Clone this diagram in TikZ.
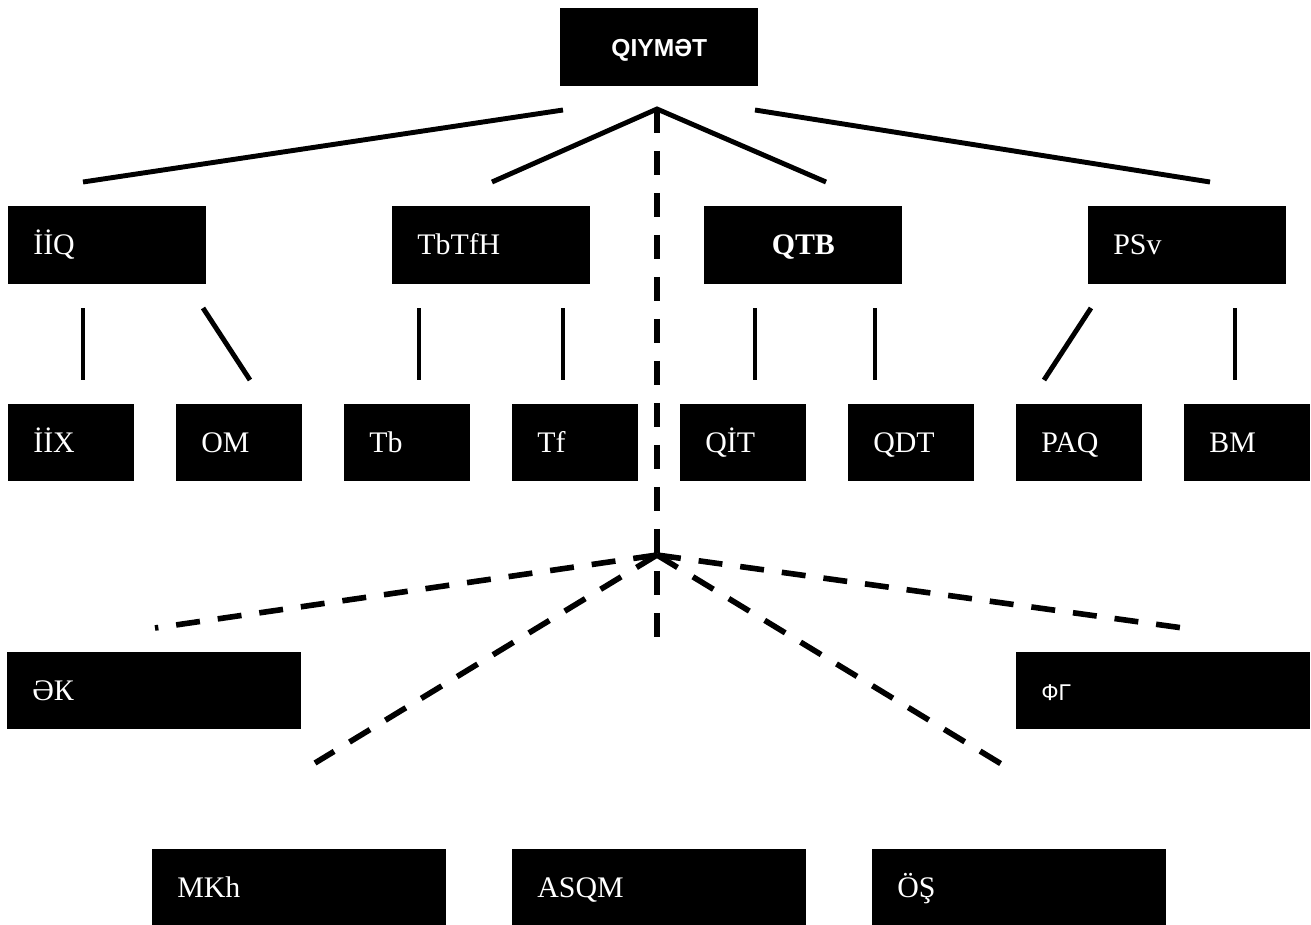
\documentclass[tikz,border=0pt]{standalone}
\usepackage{fontspec}
\setmainfont{Liberation Serif}
\newfontfamily\arialf{Liberation Sans}

\begin{document}
\begin{tikzpicture}[x=0.02cm,y=-0.02cm,
	every node/.style={anchor=north west,inner sep=0pt},
	box/.style={fill=black,text=white,inner xsep=0.5cm,minimum height=1.56cm,
		text height=0.5cm,text depth=0.12cm,
		align=left,font=\fontsize{17}{20}\selectfont},
	wide/.style={box,text width=2.96cm},
	small/.style={box,text width=1.52cm,minimum height=1.54cm},
	long/.style={box,text width=4.88cm,minimum height=1.54cm},
	branch/.style={line width=2.8pt},
	dashline/.style={line width=3.2pt,dash pattern=on 13.66pt off 10.24pt}]
	\useasboundingbox (0,0) rectangle (1311,924);

	\node[box,text width=2.96cm,align=center,font=\arialf\bfseries\fontsize{14}{16}\selectfont] (qiymet) at (560,8) {QIYMƏT};

	\node[wide] (iiq) at (8,206) {İİQ};
	\node[wide] (tbtfh) at (392,206) {TbTfH};
	\node[wide,align=center,font=\bfseries\fontsize{17}{20}\selectfont] (qtb) at (704,206) {QTB};
	\node[wide] (psv) at (1088,206) {PSv};

	\node[small] (iix) at (8,404) {İİX};
	\node[small] (om) at (176,404) {OM};
	\node[small] (tb) at (344,404) {Tb};
	\node[small] (tf) at (512,404) {Tf};
	\node[small] (qit) at (680,404) {QİT};
	\node[small] (qdt) at (848,404) {QDT};
	\node[small] (paq) at (1016,404) {PAQ};
	\node[small] (bm) at (1184,404) {BM};

	\node[long] (ek) at (7,652) {ƏК};
	\node[long,font=\arialf\fontsize{13}{15}\selectfont] (fg) at (1016,652) {ФГ};

	\node[long] (mkh) at (152,849) {MKh};
	\node[long] (asqm) at (512,849) {ASQM};
	\node[long] (os) at (872,849) {ÖŞ};

	\coordinate (top) at (657,109);
	\coordinate (mid) at (657,555);
	\coordinate (vend) at (657,637);
	\coordinate (t1) at (563,110);
	\coordinate (t2) at (755,110);
	\coordinate (a1) at (83,182);
	\coordinate (a2) at (492,182);
	\coordinate (a3) at (826,182);
	\coordinate (a4) at (1210,182);

	\draw[branch] (t1) -- (a1);
	\draw[branch] (a2) -- (top) -- (a3);
	\draw[branch] (t2) -- (a4);

	\foreach \u/\v [count=\i] in {83/83,203/250,419/419,563/563,755/755,875/875,1091/1044,1235/1235}{
		\coordinate (u\i) at (\u,308);
		\coordinate (v\i) at (\v,380);
		\draw[branch] (u\i) -- (v\i);
	}

	\coordinate (d1) at (155,628);
	\coordinate (d2) at (315,763);
	\coordinate (d3) at (1003,765);
	\coordinate (d4) at (1183,628);

	\draw[dashline] (top) -- (vend);
	\foreach \d in {d1,d2,d3,d4}
		\draw[dashline] (mid) -- (\d);
\end{tikzpicture}
\end{document}
